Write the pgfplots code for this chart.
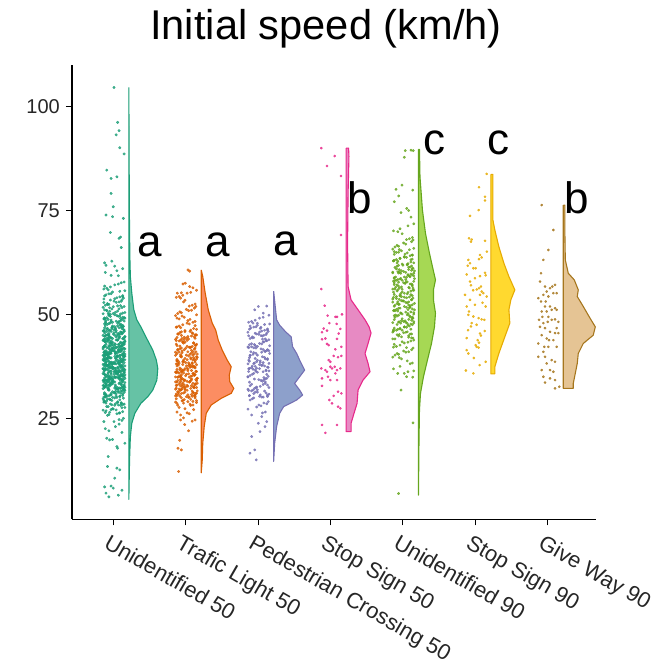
\documentclass[border=0pt]{standalone}
\usepackage{fontspec}
\setmainfont{Liberation Sans}
\usepackage{pgfplots}
\usepackage{pgfplotstable}
\pgfplotsset{compat=1.18}
\definecolor{cA}{HTML}{1B9E77}\definecolor{cB}{HTML}{D95F02}\definecolor{cC}{HTML}{7570B3}
\definecolor{cD}{HTML}{E7298A}\definecolor{cE}{HTML}{66A61E}\definecolor{cF}{HTML}{E6AB02}
\definecolor{cG}{HTML}{A6761D}
\definecolor{fA}{HTML}{66C2A5}\definecolor{fB}{HTML}{FC8D62}\definecolor{fC}{HTML}{8DA0CB}
\definecolor{fD}{HTML}{E78AC3}\definecolor{fE}{HTML}{A6D854}\definecolor{fF}{HTML}{FFD92F}
\definecolor{fG}{HTML}{E5C494}
% ---------- violins: y, half-width (axis units) ----------
\pgfplotstableread{
y w
104.6 0
75.1 0.007
63.9 0.014
59.1 0.021
55.1 0.041
51.1 0.069
48.7 0.11
47.0 0.166
44.6 0.235
41.4 0.331
39.0 0.38
37.0 0.40
34.2 0.387
31.8 0.331
30.2 0.262
28.6 0.166
26.2 0.083
23.8 0.041
20.6 0.021
15.0 0.01
5.5 0
104.6 0
}\vA
\pgfplotstableread{
y w
60.7 0
59.1 0.021
55.1 0.055
51.1 0.097
47.9 0.152
46.2 0.2
43.8 0.235
41.4 0.29
39.0 0.359
37.4 0.414
35.4 0.387
33.8 0.394
32.2 0.45
31.0 0.414
29.8 0.276
28.2 0.138
26.2 0.069
23.0 0.041
19.0 0.021
15.0 0.014
11.9 0
60.7 0
}\vB
\pgfplotstableread{
y w
55.6 0
48.7 0.041
47.4 0.083
45.8 0.166
44.6 0.242
42.2 0.262
40.6 0.318
39.0 0.359
36.6 0.428
35.0 0.359
33.4 0.29
31.8 0.359
30.6 0.40
29.4 0.318
27.8 0.138
26.2 0.083
23.0 0.041
19.0 0.014
14.6 0
55.6 0
}\vC
\pgfplotstableread{
y w
90.0 0
90.0 0.035
88.0 0.04
79.1 0.028
67.1 0.021
56.7 0.028
53.5 0.069
51.1 0.166
48.7 0.262
47.0 0.318
45.5 0.345
43.0 0.304
40.6 0.262
38.2 0.304
36.2 0.331
34.2 0.235
31.8 0.166
28.6 0.152
26.2 0.11
23.8 0.069
21.8 0.069
21.8 0
90.0 0
}\vD
\pgfplotstableread{
y w
89.7 0
89.7 0.014
83.1 0.021
75.1 0.055
69.5 0.097
64.7 0.152
61.5 0.193
58.3 0.235
55.9 0.207
53.5 0.207
50.3 0.235
47.0 0.221
43.0 0.18
39.0 0.124
35.0 0.069
31.0 0.028
27.0 0.014
19.0 0.007
6.5 0
89.7 0
}\vE
\pgfplotstableread{
y w
83.7 0
83.7 0.028
79.1 0.028
72.7 0.028
70.3 0.055
66.3 0.11
62.3 0.18
59.1 0.249
55.9 0.331
53.5 0.276
51.1 0.249
47.9 0.262
44.6 0.193
40.6 0.11
37.4 0.055
35.7 0.055
35.7 0
83.7 0
}\vF
\pgfplotstableread{
y w
76.3 0
76.3 0.021
71.1 0.021
63.1 0.028
59.9 0.069
58.3 0.152
55.9 0.207
54.3 0.193
51.9 0.276
49.4 0.359
47.0 0.442
45.0 0.414
43.0 0.276
40.6 0.207
38.2 0.193
35.8 0.166
33.4 0.138
32.2 0.138
32.2 0
76.3 0
}\vG
% ---------- jittered points: dx (offset from category), y ----------
\pgfplotstableread[row sep=\\]{dx y\\
.01 104.6\\.06 96.2\\.08 94.2\\.04 93.2\\.09 90.1\\.15 88.6\\-.09 84.7\\-.03 82.7\\.05 83.1\\-.03 79.1\\0 75.9\\-.10 73.9\\-.01 73.5\\.14 73.1\\-.04 69.7\\.08 68.3\\.10 68.6\\.11 66.1\\-.12 62.4\\-.10 61.8\\-.02 62.8\\.02 61.6\\.05 60.5\\-.11 60.1\\-.03 59.4\\.07 59.3\\.13 61.0\\
-.09 20.2\\-.05 19.8\\-.01 19.9\\.05 18.2\\.16 19.0\\.06 17.8\\-.07 15.8\\-.08 13.4\\.05 13.0\\.09 12.6\\.02 10.6\\-.12 8.5\\-.03 8.7\\0 8.2\\.12 7.7\\-.10 7.0\\.07 6.5\\-.06 6.1\\
-.11 22.5\\.03 23.0\\.12 21.6\\-.06 22.0\\.08 23.6\\-.13 24.2\\
-.13 56.1\\.07 57.3\\-.04 56.6\\.15 57.8\\-.09 56.3\\.02 57.1\\.11 57.6\\-.12 56.8\\
.05 54.0\\-.01 55.4\\.13 54.5\\-.07 55.9\\.09 54.2\\-.03 55.0\\.16 55.7\\-.10 54.7\\
.04 52.9\\-.11 52.2\\.12 53.5\\-.06 52.4\\.01 53.2\\.14 53.9\\-.08 52.6\\.08 53.0\\-.13 53.7\\.10 52.1\\
-.14 51.7\\.10 50.1\\-.02 51.3\\.06 50.8\\-.05 51.6\\.13 50.3\\-.12 51.1\\.03 50.5\\-.09 50.9\\.15 51.9\\0 50.2\\-.04 50.0\\
-.13 48.9\\.07 48.2\\-.04 49.5\\.15 48.4\\-.09 49.2\\.02 49.9\\.11 48.6\\-.12 49.0\\.05 49.7\\-.01 48.1\\.13 49.3\\-.07 48.8\\.09 49.6\\-.03 48.3\\.16 49.1\\-.10 48.5\\
.04 46.1\\-.11 47.3\\.12 46.6\\-.06 47.8\\.01 46.3\\.14 47.1\\-.08 47.6\\.08 46.8\\-.14 46.0\\.10 47.4\\-.02 46.5\\.06 47.9\\-.05 46.2\\.13 47.0\\-.12 47.7\\.03 46.7\\-.09 46.4\\.11 46.9\\-.01 47.2\\.15 46.0\\
-.13 44.0\\.07 45.4\\-.04 44.5\\.15 45.9\\-.09 44.2\\.02 45.0\\.11 45.7\\-.12 44.7\\.05 44.9\\-.01 44.2\\.13 45.5\\-.07 44.4\\.09 45.2\\-.03 45.9\\.16 44.6\\-.10 45.0\\.04 45.7\\-.11 44.1\\.12 45.3\\-.06 44.8\\.01 45.6\\.14 44.3\\-.08 45.1\\.08 44.5\\
-.14 42.1\\.10 43.3\\-.02 42.6\\.06 43.8\\-.05 42.3\\.13 43.1\\-.12 43.6\\.03 42.8\\-.13 43.7\\.07 42.1\\-.04 43.3\\.15 42.8\\-.09 43.6\\.02 42.3\\.11 43.1\\-.12 42.5\\.05 42.1\\-.01 43.3\\.13 42.6\\-.07 43.8\\.09 42.3\\-.03 43.1\\.16 43.6\\-.10 42.8\\.04 42.0\\-.11 43.4\\.12 42.5\\-.06 43.9\\
-.13 40.1\\.07 41.3\\-.04 40.6\\.15 41.8\\-.09 40.3\\.02 41.1\\.11 41.6\\-.12 40.8\\.05 40.0\\-.01 41.4\\.13 40.5\\-.07 41.9\\.09 40.2\\-.03 41.0\\.16 41.7\\-.10 40.7\\.04 40.9\\-.11 40.2\\.12 41.5\\-.06 40.4\\.01 41.2\\.14 41.9\\-.08 40.6\\.08 41.0\\-.14 41.7\\.10 40.1\\-.02 41.3\\.06 40.8\\-.05 41.6\\.13 40.3\\-.12 41.1\\.03 40.5\\
-.13 38.9\\.07 38.2\\-.04 39.5\\.15 38.4\\-.09 39.2\\.02 39.9\\.11 38.6\\-.12 39.0\\.05 39.7\\-.01 38.1\\.13 39.3\\-.07 38.8\\.09 39.6\\-.03 38.3\\.16 39.1\\-.10 38.5\\.04 38.1\\-.11 39.3\\.12 38.6\\-.06 39.8\\.01 38.3\\.14 39.1\\-.08 39.6\\.08 38.8\\-.14 38.0\\.10 39.4\\-.02 38.5\\.06 39.9\\-.05 38.2\\.13 39.0\\-.12 39.7\\.03 38.7\\0 38.4\\-.07 39.4\\
.05 36.1\\-.01 37.3\\.13 36.6\\-.07 37.8\\.09 36.3\\-.03 37.1\\.16 37.6\\-.10 36.8\\.04 36.0\\-.11 37.4\\.12 36.5\\-.06 37.9\\.01 36.2\\.14 37.0\\-.08 37.7\\.08 36.7\\-.14 36.9\\.10 36.2\\-.02 37.5\\.06 36.4\\-.05 37.2\\.13 37.9\\-.12 36.6\\.03 37.0\\-.13 37.7\\.07 36.1\\-.04 37.3\\.15 36.8\\-.09 37.6\\.02 36.3\\.11 37.1\\-.12 36.5\\0 36.9\\.10 37.5\\
.04 35.7\\-.11 34.1\\.12 35.3\\-.06 34.8\\.01 35.6\\.14 34.3\\-.08 35.1\\.08 34.5\\-.14 34.1\\.10 35.3\\-.02 34.6\\.06 35.8\\-.05 34.3\\.13 35.1\\-.12 35.6\\.03 34.8\\-.13 34.0\\.07 35.4\\-.04 34.5\\.15 35.9\\-.09 34.2\\.02 35.0\\.11 35.7\\-.12 34.7\\.05 34.9\\-.01 34.2\\.13 35.5\\-.07 34.4\\.09 35.2\\-.03 35.9\\.16 34.6\\-.10 35.0\\
-.14 32.9\\.10 32.2\\-.02 33.5\\.06 32.4\\-.05 33.2\\.13 33.9\\-.12 32.6\\.03 33.0\\-.13 33.7\\.07 32.1\\-.04 33.3\\.15 32.8\\-.09 33.6\\.02 32.3\\.11 33.1\\-.12 32.5\\.05 32.1\\-.01 33.3\\.13 32.6\\-.07 33.8\\.09 32.3\\-.03 33.1\\.16 33.6\\-.10 32.8\\.04 32.0\\-.11 33.4\\.12 32.5\\-.06 33.9\\
-.13 30.1\\.07 31.3\\-.04 30.6\\.15 31.8\\-.09 30.3\\.02 31.1\\.11 31.6\\-.12 30.8\\.05 30.0\\-.01 31.4\\.13 30.5\\-.07 31.9\\.09 30.2\\-.03 31.0\\.16 31.7\\-.10 30.7\\.04 30.9\\-.11 30.2\\.12 31.5\\-.06 30.4\\.01 31.2\\.14 31.9\\
-.14 29.7\\.10 28.1\\-.02 29.3\\.06 28.8\\-.05 29.6\\.13 28.3\\-.12 29.1\\.03 28.5\\-.13 28.9\\.07 28.2\\-.04 29.5\\.15 28.4\\-.09 29.2\\.02 29.9\\.11 28.6\\-.12 29.0\\
.05 26.1\\-.01 27.3\\.13 26.6\\-.07 27.8\\.09 26.3\\-.03 27.1\\.16 27.6\\-.10 26.8\\.04 27.0\\-.11 26.4\\
.12 24.5\\-.06 25.9\\.01 24.2\\.14 25.0\\-.08 25.7\\.08 24.7\\
-.12 54.45\\.09 55.55\\-.06 54.95\\.13 54.25\\
.11 53.15\\-.08 52.35\\.02 53.75\\-.13 52.85\\.06 52.05\\-.04 53.45\\
-.05 50.75\\.12 51.65\\-.14 50.15\\.08 51.35\\-.09 50.95\\.16 50.45\\0 51.85\\-.07 50.25\\
.07 49.55\\-.03 48.65\\.10 49.05\\-.11 48.15\\.15 49.25\\-.06 49.95\\.04 48.35\\-.12 48.85\\-.12 49.15\\.09 48.35\\-.06 49.75\\.13 48.85\\
-.12 46.75\\.09 47.65\\-.06 46.15\\.13 47.35\\-.01 46.95\\.03 46.45\\-.10 47.85\\.15 46.25\\.11 47.55\\-.08 46.65\\.02 47.05\\-.13 46.15\\.06 47.25\\-.04 47.95\\.14 46.35\\-.02 46.85\\
-.05 44.45\\.12 45.55\\-.14 44.95\\.08 44.25\\-.09 45.85\\.16 44.65\\0 45.25\\-.07 45.05\\.07 45.15\\-.03 44.35\\.10 45.75\\-.11 44.85\\.15 44.05\\-.06 45.45\\.04 44.55\\-.12 45.95\\-.12 45.55\\.09 44.65\\-.06 45.05\\.13 44.15\\
.11 42.45\\-.08 43.55\\.02 42.95\\-.13 42.25\\.06 43.85\\-.04 42.65\\.14 43.25\\-.02 43.05\\-.05 43.15\\.12 42.35\\-.14 43.75\\.08 42.85\\-.09 42.05\\.16 43.45\\0 42.55\\-.07 43.95\\.07 42.75\\-.03 43.65\\.10 42.15\\-.11 43.35\\.15 42.95\\-.06 42.45\\.04 43.85\\-.12 42.25\\
-.12 40.45\\.09 41.55\\-.06 40.95\\.13 40.25\\-.01 41.85\\.03 40.65\\-.10 41.25\\.15 41.05\\.11 41.15\\-.08 40.35\\.02 41.75\\-.13 40.85\\.06 40.05\\-.04 41.45\\.14 40.55\\-.02 41.95\\-.05 40.75\\.12 41.65\\-.14 40.15\\.08 41.35\\-.09 40.95\\.16 40.45\\0 41.85\\-.07 40.25\\.07 41.55\\-.03 40.65\\.10 41.05\\-.11 40.15\\
.07 38.45\\-.03 39.55\\.10 38.95\\-.11 38.25\\.15 39.85\\-.06 38.65\\.04 39.25\\-.12 39.05\\-.12 39.15\\.09 38.35\\-.06 39.75\\.13 38.85\\-.01 38.05\\.03 39.45\\-.10 38.55\\.15 39.95\\.11 38.75\\-.08 39.65\\.02 38.15\\-.13 39.35\\.06 38.95\\-.04 38.45\\.14 39.85\\-.02 38.25\\-.05 39.55\\.12 38.65\\-.14 39.05\\.08 38.15\\-.09 39.25\\.16 39.95\\
-.05 36.45\\.12 37.55\\-.14 36.95\\.08 36.25\\-.09 37.85\\.16 36.65\\0 37.25\\-.07 37.05\\.07 37.15\\-.03 36.35\\.10 37.75\\-.11 36.85\\.15 36.05\\-.06 37.45\\.04 36.55\\-.12 37.95\\-.12 36.75\\.09 37.65\\-.06 36.15\\.13 37.35\\-.01 36.95\\.03 36.45\\-.10 37.85\\.15 36.25\\.11 37.55\\-.08 36.65\\.02 37.05\\-.13 36.15\\.06 37.25\\-.04 37.95\\
.11 34.45\\-.08 35.55\\.02 34.95\\-.13 34.25\\.06 35.85\\-.04 34.65\\.14 35.25\\-.02 35.05\\-.05 35.15\\.12 34.35\\-.14 35.75\\.08 34.85\\-.09 34.05\\.16 35.45\\0 34.55\\-.07 35.95\\.07 34.75\\-.03 35.65\\.10 34.15\\-.11 35.35\\.15 34.95\\-.06 34.45\\.04 35.85\\-.12 34.25\\-.12 35.55\\.09 34.65\\-.06 35.05\\.13 34.15\\
-.12 32.45\\.09 33.55\\-.06 32.95\\.13 32.25\\-.01 33.85\\.03 32.65\\-.10 33.25\\.15 33.05\\.11 33.15\\-.08 32.35\\.02 33.75\\-.13 32.85\\.06 32.05\\-.04 33.45\\.14 32.55\\-.02 33.95\\-.05 32.75\\.12 33.65\\-.14 32.15\\.08 33.35\\-.09 32.95\\.16 32.45\\0 33.85\\-.07 32.25\\
.07 31.55\\-.03 30.65\\.10 31.05\\-.11 30.15\\.15 31.25\\-.06 31.95\\.04 30.35\\-.12 30.85\\-.12 31.15\\.09 30.35\\-.06 31.75\\.13 30.85\\-.01 30.05\\.03 31.45\\-.10 30.55\\.15 31.95\\
.11 28.75\\-.08 29.65\\.02 28.15\\-.13 29.35\\.06 28.95\\-.04 28.45\\.14 29.85\\-.02 28.25\\.09 29.45\\-.10 28.65\\
-.05 26.45\\.12 27.55\\-.14 26.95\\.08 26.25\\-.09 27.85\\0 27.25\\
}\pA
\pgfplotstableread[row sep=\\]{dx y\\
.032 60.7\\.055 60.4\\-.037 57.3\\-.005 57.5\\-.115 55.1\\-.06 55.2\\.055 56.7\\.10 56.4\\
-.13 54.1\\.07 55.3\\-.04 54.6\\.15 55.8\\-.09 54.3\\.02 55.1\\
.05 52.0\\-.01 53.4\\.13 52.5\\-.07 53.9\\.09 52.2\\-.03 53.0\\
.04 50.9\\-.11 50.2\\.12 51.5\\-.06 50.4\\.01 51.2\\.14 51.9\\-.08 50.6\\.08 51.0\\
-.14 49.7\\.10 48.1\\-.02 49.3\\.06 48.8\\-.05 49.6\\.13 48.3\\-.12 49.1\\.03 48.5\\-.09 48.9\\.15 49.9\\
-.13 46.9\\.07 46.2\\-.04 47.5\\.15 46.4\\-.09 47.2\\.02 47.9\\.11 46.6\\-.12 47.0\\.05 47.7\\-.01 46.1\\.13 47.3\\-.07 46.8\\
.04 44.1\\-.11 45.3\\.12 44.6\\-.06 45.8\\.01 44.3\\.14 45.1\\-.08 45.6\\.08 44.8\\-.14 44.0\\.10 45.4\\-.02 44.5\\.06 45.9\\-.05 44.2\\.13 45.0\\
-.13 43.7\\.07 42.1\\-.04 43.3\\.15 42.8\\-.09 43.6\\.02 42.3\\.11 43.1\\-.12 42.5\\.05 42.1\\-.01 43.3\\.13 42.6\\-.07 43.8\\.09 42.3\\-.03 43.1\\
.04 40.0\\-.11 41.4\\.12 40.5\\-.06 41.9\\.01 40.2\\.14 41.0\\-.08 41.7\\.08 40.7\\-.14 40.9\\.10 40.2\\-.02 41.5\\.06 40.4\\-.05 41.2\\.13 41.9\\-.12 40.6\\.03 41.0\\
-.13 38.1\\.07 39.3\\-.04 38.6\\.15 39.8\\-.09 38.3\\.02 39.1\\.11 39.6\\-.12 38.8\\.05 38.0\\-.01 39.4\\.13 38.5\\-.07 39.9\\.09 38.2\\-.03 39.0\\.16 39.7\\-.10 38.7\\0 38.4\\.12 39.2\\
.04 37.7\\-.11 36.1\\.12 37.3\\-.06 36.8\\.01 37.6\\.14 36.3\\-.08 37.1\\.08 36.5\\-.14 36.1\\.10 37.3\\-.02 36.6\\.06 37.8\\-.05 36.3\\.13 37.1\\-.12 37.6\\.03 36.8\\-.13 36.0\\.07 37.4\\-.04 36.5\\.15 37.9\\
.05 34.9\\-.01 34.2\\.13 35.5\\-.07 34.4\\.09 35.2\\-.03 35.9\\.16 34.6\\-.10 35.0\\.04 35.7\\-.11 34.1\\.12 35.3\\-.06 34.8\\.01 35.6\\.14 34.3\\-.08 35.1\\.08 34.5\\-.02 34.0\\.11 35.8\\
-.14 32.0\\.10 33.4\\-.02 32.5\\.06 33.9\\-.05 32.2\\.13 33.0\\-.12 33.7\\.03 32.7\\-.13 32.9\\.07 32.2\\-.04 33.5\\.15 32.4\\-.09 33.2\\.02 33.9\\.11 32.6\\-.12 33.0\\.05 33.7\\-.01 32.1\\.13 33.3\\-.07 32.8\\
.05 30.1\\-.01 31.3\\.13 30.6\\-.07 31.8\\.09 30.3\\-.03 31.1\\.16 31.6\\-.10 30.8\\.04 30.0\\-.11 31.4\\.12 30.5\\-.06 31.9\\.01 30.2\\.14 31.0\\-.08 31.7\\.08 30.7\\-.14 30.4\\.10 31.2\\
-.14 28.9\\.10 28.2\\-.02 29.5\\.06 28.4\\-.05 29.2\\.13 29.9\\-.12 28.6\\.03 29.0\\-.13 29.7\\.07 28.1\\-.04 29.3\\.15 28.8\\
-.09 27.6\\.02 26.3\\.11 27.1\\-.12 26.5\\.05 26.1\\-.01 27.3\\
.13 24.6\\-.07 25.8\\.09 24.3\\-.03 25.1\\
-.07 24.6\\-.014 23.5\\.04 22.0\\-.083 19.7\\-.106 17.8\\-.06 17.4\\-.097 12.2\\
-.12 44.45\\.09 45.55\\-.06 44.95\\.13 44.25\\-.01 45.85\\.03 44.65\\-.10 45.25\\.15 45.05\\
.11 43.15\\-.08 42.35\\.02 43.75\\-.13 42.85\\.06 42.05\\-.04 43.45\\.14 42.55\\-.02 43.95\\
-.05 40.75\\.12 41.65\\-.14 40.15\\.08 41.35\\-.09 40.95\\.16 40.45\\0 41.85\\-.07 40.25\\.10 41.05\\-.11 41.55\\
.07 39.55\\-.03 38.65\\.10 39.05\\-.11 38.15\\.15 39.25\\-.06 39.95\\.04 38.35\\-.12 38.85\\-.12 39.15\\.09 38.35\\-.06 39.75\\.13 38.85\\
-.12 36.75\\.09 37.65\\-.06 36.15\\.13 37.35\\-.01 36.95\\.03 36.45\\-.10 37.85\\.15 36.25\\.11 37.55\\-.08 36.65\\.02 37.05\\-.13 36.15\\.06 37.25\\-.04 37.95\\
-.05 34.45\\.12 35.55\\-.14 34.95\\.08 34.25\\-.09 35.85\\.16 34.65\\0 35.25\\-.07 35.05\\.07 35.15\\-.03 34.35\\.10 35.75\\-.11 34.85\\.15 34.05\\-.06 35.45\\
.11 32.45\\-.08 33.55\\.02 32.95\\-.13 32.25\\.06 33.85\\-.04 32.65\\.14 33.25\\-.02 33.05\\-.05 33.15\\.12 32.35\\-.14 33.75\\.08 32.85\\-.09 32.05\\.16 33.45\\0 32.55\\-.07 33.95\\
-.12 30.45\\.09 31.55\\-.06 30.95\\.13 30.25\\-.01 31.85\\.03 30.65\\-.10 31.25\\.15 31.05\\.11 31.15\\-.08 30.35\\.02 31.75\\-.13 30.85\\
.07 29.55\\-.03 28.65\\.10 29.05\\-.11 28.15\\.15 29.25\\-.06 29.95\\
}\pB
\pgfplotstableread[row sep=\\]{dx y\\
.119 52.0\\.003 51.9\\-.047 51.1\\.072 50.3\\
-.13 48.1\\.07 49.3\\-.04 48.6\\.15 49.8\\-.09 48.3\\.02 49.1\\
.05 46.0\\-.01 47.4\\.13 46.5\\-.07 47.9\\.09 46.2\\-.03 47.0\\.16 47.7\\-.10 46.7\\.04 46.9\\-.11 47.2\\
.04 44.9\\-.11 44.2\\.12 45.5\\-.06 44.4\\.01 45.2\\.14 45.9\\-.08 44.6\\.08 45.0\\-.14 45.7\\.10 44.1\\-.02 45.3\\.06 44.8\\
-.13 42.0\\.07 43.4\\-.04 42.5\\.15 43.9\\-.09 42.2\\.02 43.0\\.11 43.7\\-.12 42.7\\.05 42.9\\-.01 42.3\\
.05 40.9\\-.01 40.2\\.13 41.5\\-.07 40.4\\.09 41.2\\-.03 41.9\\.16 40.6\\-.10 41.0\\.04 41.7\\-.11 40.1\\.12 41.3\\-.06 40.8\\
-.14 38.1\\.10 39.3\\-.02 38.6\\.06 39.8\\-.05 38.3\\.13 39.1\\-.12 39.6\\.03 38.8\\-.13 39.0\\.07 38.4\\-.04 39.4\\.15 38.2\\
-.13 36.9\\.07 36.2\\-.04 37.5\\.15 36.4\\-.09 37.2\\.02 37.9\\.11 36.6\\-.12 37.0\\.05 37.7\\-.01 36.1\\.13 37.3\\-.07 36.8\\.09 37.6\\-.03 36.3\\
.04 34.1\\-.11 35.3\\.12 34.6\\-.06 35.8\\.01 34.3\\.14 35.1\\-.08 35.6\\.08 34.8\\-.14 35.0\\.10 34.5\\
-.14 32.0\\.10 33.4\\-.02 32.5\\.06 33.9\\-.05 32.2\\.13 33.0\\-.12 33.7\\.03 32.7\\-.09 33.2\\.15 32.4\\
-.13 31.7\\.07 30.1\\-.04 31.3\\.15 30.8\\-.09 31.6\\.02 30.3\\.11 31.1\\-.12 30.5\\.05 30.1\\-.01 31.3\\.13 30.6\\-.07 31.8\\
.04 28.0\\-.11 29.4\\.12 28.5\\-.06 29.9\\.01 28.2\\.14 29.0\\-.08 29.7\\.08 28.7\\
-.14 27.2\\.10 26.5\\-.02 27.7\\.06 26.3\\
-.089 25.8\\.05 25.4\\.003 23.8\\.119 24.2\\.096 23.0\\.026 21.8\\-.089 20.6\\-.112 16.6\\-.047 17.4\\-.026 15.0\\
-.12 46.45\\.09 47.55\\-.06 46.95\\.13 46.25\\-.01 47.85\\.03 46.65\\
.11 45.15\\-.08 44.35\\.02 45.75\\-.13 44.85\\.06 44.05\\-.04 45.45\\
-.05 42.75\\.12 43.65\\-.14 42.15\\.08 43.35\\-.09 42.95\\.16 42.45\\
.07 41.55\\-.03 40.65\\.10 41.05\\-.11 40.15\\.15 41.25\\-.06 41.95\\
-.12 38.75\\.09 39.65\\-.06 38.15\\.13 39.35\\-.01 38.95\\.03 38.45\\
.11 36.45\\-.08 37.55\\.02 36.95\\-.13 36.25\\.06 37.85\\-.04 36.65\\.14 37.25\\-.02 37.05\\
-.05 34.45\\.12 35.55\\-.14 34.95\\.08 34.25\\
.07 33.15\\-.03 32.35\\.10 33.75\\-.11 32.85\\
-.12 30.45\\.09 31.55\\-.06 30.95\\.13 30.25\\-.01 31.85\\.03 30.65\\
}\pC
\pgfplotstableread[row sep=\\]{dx y\\
-.127 90.0\\.058 88.1\\-.048 85.7\\.145 83.3\\.145 69.1\\-.127 56.1\\-.08 52.1\\
-.039 49.7\\.067 49.4\\.090 49.4\\.159 50.0\\-.016 47.9\\.085 47.7\\-.094 46.6\\.136 46.5\\-.117 45.7\\-.048 46.1\\.113 45.4\\-.071 44.2\\-.117 44.0\\.090 44.1\\-.048 42.9\\-.025 42.6\\.150 42.2\\.067 41.6\\.044 40.0\\.150 40.0\\.104 39.7\\-.002 38.6\\-.025 39.0\\-.127 37.0\\-.071 36.6\\-.048 36.2\\-.002 37.4\\.021 37.0\\.058 37.4\\.090 36.6\\.136 37.0\\.067 35.8\\-.035 35.0\\-.117 34.6\\-.002 34.2\\.090 34.2\\-.117 32.8\\.104 31.4\\.150 31.0\\.044 30.4\\-.016 29.4\\.021 28.6\\.104 27.8\\.136 27.4\\-.117 23.4\\.090 23.4\\-.071 21.5\\
}\pD
\pgfplotstableread[row sep=\\]{dx y\\
.033 89.4\\.112 89.5\\.144 89.4\\.019 87.8\\-.095 80.1\\-.012 81.1\\.135 79.9\\-.058 78.5\\-.119 77.1\\.052 75.5\\.08 75.0\\-.026 74.5\\.112 73.4\\
-.13 70.1\\.07 71.3\\-.04 70.6\\.15 71.8\\
.05 68.0\\-.01 69.4\\.13 68.5\\-.07 69.9\\.09 68.2\\
.04 66.9\\-.11 66.2\\.12 67.5\\-.06 66.4\\.01 67.2\\.14 67.9\\-.08 66.6\\
-.14 65.7\\.10 64.1\\-.02 65.3\\.06 64.8\\-.05 65.6\\.13 64.3\\-.12 65.1\\.03 64.5\\-.09 64.9\\.15 65.9\\
-.13 62.9\\.07 62.2\\-.04 63.5\\.15 62.4\\-.09 63.2\\.02 63.9\\.11 62.6\\-.12 63.0\\.05 63.7\\-.01 62.1\\.13 63.3\\-.07 62.8\\
.04 60.1\\-.11 61.3\\.12 60.6\\-.06 61.8\\.01 60.3\\.14 61.1\\-.08 61.6\\.08 60.8\\-.14 60.0\\.10 61.4\\-.02 60.5\\.06 61.9\\-.05 60.2\\.13 61.0\\
-.13 58.0\\.07 59.4\\-.04 58.5\\.15 59.9\\-.09 58.2\\.02 59.0\\.11 59.7\\-.12 58.7\\.05 58.9\\-.01 58.2\\.13 59.5\\-.07 58.4\\.09 59.2\\-.03 59.9\\.16 58.6\\-.10 59.0\\
.04 57.7\\-.11 56.1\\.12 57.3\\-.06 56.8\\.01 57.6\\.14 56.3\\-.08 57.1\\.08 56.5\\-.14 56.1\\.10 57.3\\-.02 56.6\\.06 57.8\\-.05 56.3\\.13 57.1\\-.12 57.6\\
-.13 54.1\\.07 55.3\\-.04 54.6\\.15 55.8\\-.09 54.3\\.02 55.1\\.11 55.6\\-.12 54.8\\.05 54.0\\-.01 55.4\\.13 54.5\\-.07 55.9\\.09 54.2\\-.03 55.0\\
.04 52.9\\-.11 52.2\\.12 53.5\\-.06 52.4\\.01 53.2\\.14 53.9\\-.08 52.6\\.08 53.0\\-.14 53.7\\.10 52.1\\-.02 53.3\\.06 52.8\\-.05 53.6\\.13 52.3\\
-.13 50.9\\.07 50.2\\-.04 51.5\\.15 50.4\\-.09 51.2\\.02 51.9\\.11 50.6\\-.12 51.0\\.05 51.7\\-.01 50.1\\.13 51.3\\-.07 50.8\\.09 51.6\\-.03 50.3\\.16 51.1\\
.04 48.1\\-.11 49.3\\.12 48.6\\-.06 49.8\\.01 48.3\\.14 49.1\\-.08 49.6\\.08 48.8\\-.14 48.0\\.10 49.4\\-.02 48.5\\.06 49.9\\-.05 48.2\\.13 49.0\\-.12 49.7\\
-.13 46.0\\.07 47.4\\-.04 46.5\\.15 47.9\\-.09 46.2\\.02 47.0\\.11 47.7\\-.12 46.7\\.05 46.9\\-.01 46.2\\.13 47.5\\-.07 46.4\\.09 47.2\\-.03 47.9\\
.04 45.7\\-.11 44.1\\.12 45.3\\-.06 44.8\\.01 45.6\\.14 44.3\\-.08 45.1\\.08 44.5\\-.14 44.1\\.10 45.3\\-.02 44.6\\.06 45.8\\
-.13 42.1\\.07 43.3\\-.04 42.6\\.15 43.8\\-.09 42.3\\.02 43.1\\.11 43.6\\-.12 42.8\\.05 42.0\\-.01 43.4\\
.04 40.9\\-.11 40.2\\.12 41.5\\-.06 40.4\\.01 41.2\\.14 41.9\\-.08 40.6\\.08 41.0\\
-.14 39.7\\.10 38.1\\-.02 39.3\\.06 38.8\\-.05 39.6\\.13 38.3\\
-.13 36.9\\.07 36.2\\-.04 37.5\\.15 36.4\\
-.072 35.8\\.019 35.8\\.05 35.0\\.135 34.9\\-.026 31.8\\.14 23.9\\-.06 6.9\\
-.12 64.45\\.09 65.55\\-.06 64.95\\.13 64.25\\
.11 63.15\\-.08 62.35\\.02 63.75\\-.13 62.85\\.06 62.05\\-.04 63.45\\
-.05 60.75\\.12 61.65\\-.14 60.15\\.08 61.35\\-.09 60.95\\.16 60.45\\0 61.85\\-.07 60.25\\
.07 59.55\\-.03 58.65\\.10 59.05\\-.11 58.15\\.15 59.25\\-.06 59.95\\.04 58.35\\-.12 58.85\\
-.12 57.15\\.09 56.35\\-.06 57.75\\.13 56.85\\-.01 56.05\\.03 57.45\\-.10 56.55\\.15 57.95\\
.11 54.75\\-.08 55.65\\.02 54.15\\-.13 55.35\\.06 54.95\\-.04 54.45\\.14 55.85\\-.02 54.25\\
-.05 52.45\\.12 53.55\\-.14 52.95\\.08 52.25\\-.09 53.85\\.16 52.65\\0 53.25\\-.07 53.05\\
.07 51.15\\-.03 50.35\\.10 51.75\\-.11 50.85\\.15 50.05\\-.06 51.45\\.04 50.55\\-.12 51.95\\
-.12 48.75\\.09 49.65\\-.06 48.15\\.13 49.35\\-.01 48.95\\.03 48.45\\-.10 49.85\\.15 48.25\\
.11 46.45\\-.08 47.55\\.02 46.95\\-.13 46.25\\.06 47.85\\-.04 46.65\\
-.05 45.15\\.12 44.35\\-.14 45.75\\.08 44.85\\
}\pE
\pgfplotstableread[row sep=\\]{dx y\\
.157 83.8\\.051 80.6\\.134 78.3\\.134 77.4\\.046 75.1\\-.073 73.7\\-.087 68.3\\-.05 68.0\\-.06 67.5\\.134 67.7\\.16 65.1\\.065 64.3\\.088 63.7\\.051 63.3\\-.096 63.1\\-.105 61.7\\-.073 62.3\\-.027 61.1\\.005 61.1\\.134 60.0\\.143 59.4\\.065 59.2\\-.119 59.6\\-.073 57.9\\-.005 58.7\\-.06 57.0\\.078 56.7\\.051 56.3\\.088 55.5\\.111 55.1\\.065 54.7\\-.142 54.7\\-.073 53.5\\.157 54.3\\.143 51.9\\-.005 52.3\\-.119 51.9\\-.087 50.7\\-.096 49.9\\-.027 49.5\\.046 49.1\\.088 48.8\\.125 48.7\\-.05 47.9\\.018 47.5\\.065 45.4\\.078 44.9\\-.119 44.3\\.033 43.8\\.051 43.2\\.018 42.2\\.046 42.0\\.005 42.6\\-.096 40.6\\.143 38.6\\-.027 35.8\\-.119 41.4\\-.06 47.1\\.02 56.0\\-.03 55.8\\.10 52.8\\-.10 46.2\\.13 46.0\\-.02 39.5\\.06 37.8\\-.13 36.5\\
}\pF
\pgfplotstableread[row sep=\\]{dx y\\
-.083 76.3\\.078 70.3\\.009 65.5\\-.060 63.1\\-.092 59.9\\-.106 57.9\\-.037 56.7\\.032 56.3\\.064 56.7\\.101 57.1\\-.014 55.5\\-.130 53.9\\-.060 54.7\\.009 54.3\\.078 55.1\\.124 55.1\\-.092 53.1\\-.028 53.1\\-.037 51.9\\.032 51.9\\.101 51.5\\.055 51.1\\.124 51.1\\-.014 50.7\\-.083 50.7\\-.074 49.4\\.009 49.4\\-.120 48.7\\.101 48.8\\.055 48.7\\0 48.2\\.147 48.2\\-.060 47.9\\-.106 47.0\\-.037 46.7\\.124 46.7\\.032 45.8\\.101 45.5\\.147 45.5\\-.083 45.0\\-.014 44.2\\.018 43.8\\.078 43.8\\-.130 43.0\\-.047 42.2\\.009 42.2\\.124 42.2\\-.060 41.0\\-.130 39.8\\-.037 39.8\\.055 39.0\\.101 38.6\\-.014 38.2\\-.083 36.6\\.032 36.6\\.078 36.2\\-.060 35.0\\.032 34.6\\.101 34.2\\-.037 33.6\\.101 32.2\\.16 32.6\\
}\pG
\begin{document}
\begin{tikzpicture}
\path[use as bounding box] (0pt,0pt) rectangle (666pt,665pt);
\node[anchor=base, inner sep=0pt, font=\fontsize{41.6}{48}\selectfont] at (326pt,625.7pt) {Initial speed (km/h)};
\begin{axis}[at={(72pt,145.7pt)}, anchor=south west, scale only axis,
  width=524pt, height=454.3pt,
  xmin=0.43, xmax=7.667, ymin=0.7, ymax=110,
  axis x line*=bottom, axis y line*=left,
  axis line style={-, line width=1.1pt, black},
  tick align=outside, major tick length=6pt,
  tick style={line width=1.1pt, black},
  xtick={1,2,3,4,5,6,7},
  xticklabels={Unidentified 50,Trafic Light 50,Pedestrian Crossing 50,Stop Sign 50,Unidentified 90,Stop Sign 90,Give Way 90},
  ytick={25,50,75,100},
  /pgf/number format/assume math mode=true,
  yticklabel style={font=\fontsize{20}{24}\selectfont, text=black!85, anchor=east, inner sep=0pt, xshift=-6pt},
  xticklabel style={font=\fontsize{22}{26}\selectfont, text=black!85, xshift=-2.6pt, yshift=-8pt, rotate=-30, anchor=north west, inner sep=0pt},
  every axis plot/.append style={line join=round},
]
\addplot[draw=cA, fill=fA, line width=1.1pt] table[x expr=\thisrow{w}+1.215, y=y] {\vA};
\addplot[draw=cB, fill=fB, line width=1.1pt] table[x expr=\thisrow{w}+2.215, y=y] {\vB};
\addplot[draw=cC, fill=fC, line width=1.1pt] table[x expr=\thisrow{w}+3.215, y=y] {\vC};
\addplot[draw=cD, fill=fD, line width=1.1pt] table[x expr=\thisrow{w}+4.215, y=y] {\vD};
\addplot[draw=cE, fill=fE, line width=1.1pt] table[x expr=\thisrow{w}+5.215, y=y] {\vE};
\addplot[draw=cF, fill=fF, line width=1.1pt] table[x expr=\thisrow{w}+6.215, y=y] {\vF};
\addplot[draw=cG, fill=fG, line width=1.1pt] table[x expr=\thisrow{w}+7.215, y=y] {\vG};
\addplot[only marks, mark=*, color=cA, mark size=1.3pt, opacity=0.8] table[x expr=\thisrow{dx}+1, y=y] {\pA};
\addplot[only marks, mark=*, color=cB, mark size=1.3pt, opacity=0.8] table[x expr=\thisrow{dx}+2, y=y] {\pB};
\addplot[only marks, mark=*, color=cC, mark size=1.25pt, opacity=0.8] table[x expr=\thisrow{dx}+3, y=y] {\pC};
\addplot[only marks, mark=*, color=cD, mark size=1.15pt, opacity=0.8] table[x expr=\thisrow{dx}+4, y=y] {\pD};
\addplot[only marks, mark=*, color=cE, mark size=1.25pt, opacity=0.8] table[x expr=\thisrow{dx}+5, y=y] {\pE};
\addplot[only marks, mark=*, color=cF, mark size=1.15pt, opacity=0.8] table[x expr=\thisrow{dx}+6, y=y] {\pF};
\addplot[only marks, mark=*, color=cG, mark size=1.15pt, opacity=0.8] table[x expr=\thisrow{dx}+7, y=y] {\pG};
\node[anchor=base, font=\fontsize{44}{50}\selectfont] at (axis cs:1.507,63.9) {a};
\node[anchor=base, font=\fontsize{44}{50}\selectfont] at (axis cs:2.439,63.9) {a};
\node[anchor=base, font=\fontsize{44}{50}\selectfont] at (axis cs:3.385,64.2) {a};
\node[anchor=base, font=\fontsize{44}{50}\selectfont] at (axis cs:4.403,74.3) {b};
\node[anchor=base, font=\fontsize{44}{50}\selectfont] at (axis cs:5.432,88.4) {c};
\node[anchor=base, font=\fontsize{44}{50}\selectfont] at (axis cs:6.325,88.4) {c};
\node[anchor=base, font=\fontsize{44}{50}\selectfont] at (axis cs:7.405,74.3) {b};
\end{axis}
\end{tikzpicture}
\end{document}
